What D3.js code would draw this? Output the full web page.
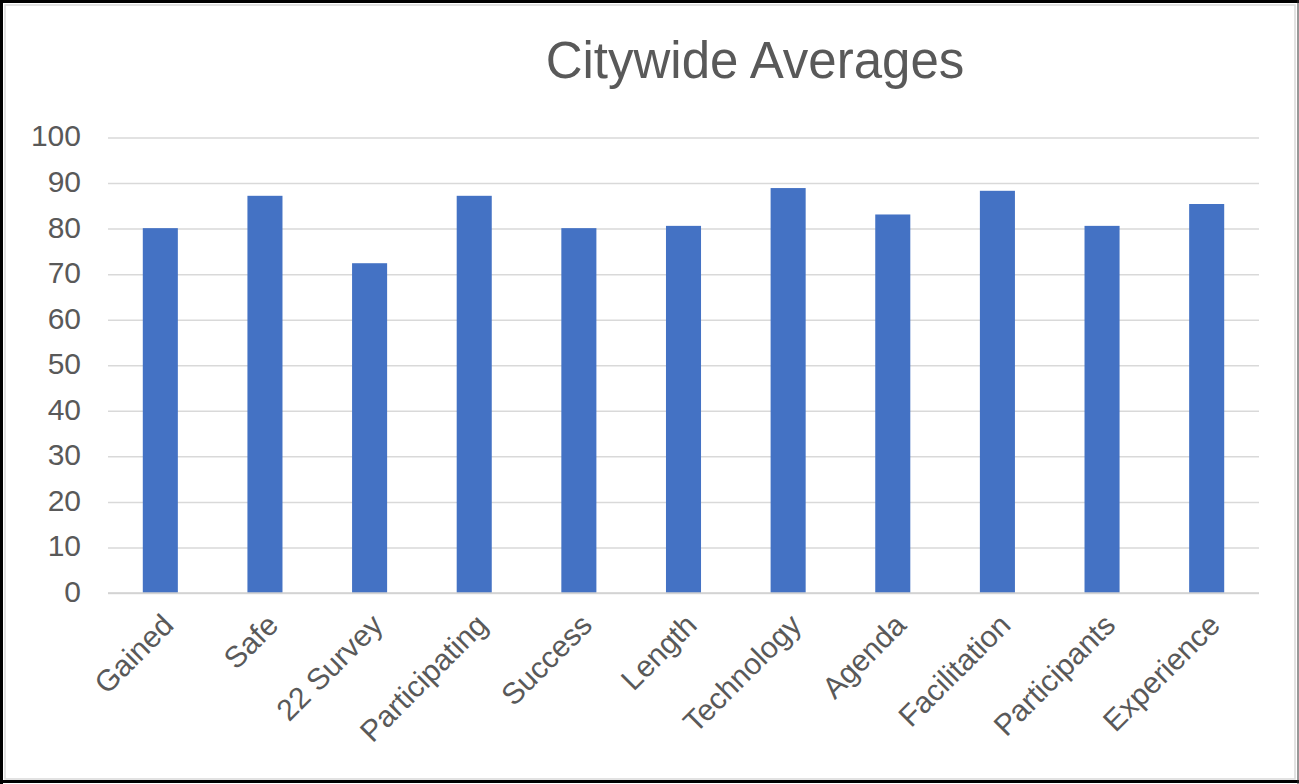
<!DOCTYPE html>
<html>
<head>
<meta charset="utf-8">
<script src="https://cdn.jsdelivr.net/npm/d3@7"></script>
<style>
  html, body { margin: 0; padding: 0; background: #fff; }
  svg { display: block; }
  text { font-family: "Liberation Sans", Arial, Helvetica, sans-serif; fill: #595959; }
</style>
</head>
<body>
<svg id="chart" width="1299" height="784"></svg>
<script>
// Survey categories and their citywide average scores
const categories = ["Gained", "Safe", "22 Survey", "Participating", "Success", "Length",
                    "Technology", "Agenda", "Facilitation", "Participants", "Experience"];
const averages = [80.1, 87.2, 72.4, 87.2, 80.1, 80.6, 88.9, 83.1, 88.3, 80.6, 85.4];
const yTicks = [0, 10, 20, 30, 40, 50, 60, 70, 80, 90, 100];
const chartTitle = "Citywide Averages";

const W = 1299, H = 784;
const plot = { left: 108, right: 1259, top: 137.5, bottom: 593 };

const svg = d3.select("#chart");

// outer frame
svg.append("rect").attr("x", 0).attr("y", 0).attr("width", W).attr("height", H).attr("fill", "#fff");
svg.append("rect").attr("x", 5).attr("y", 5).attr("width", W - 9).attr("height", H - 10)
  .attr("fill", "none").attr("stroke", "#d9d9d9").attr("stroke-width", 1.5);
svg.append("path").attr("d", `M1.5,${H} L1.5,1.5 L${W},1.5`).attr("fill", "none")
  .attr("stroke", "#000").attr("stroke-width", 3);
svg.append("line").attr("x1", 0).attr("x2", W).attr("y1", H - 2.5).attr("y2", H - 2.5)
  .attr("stroke", "#000").attr("stroke-width", 3);
svg.append("line").attr("x1", W - 1).attr("x2", W - 1).attr("y1", 0).attr("y2", H)
  .attr("stroke", "#333").attr("stroke-width", 1);

// scales
const x = d3.scaleBand().domain(categories).range([plot.left, plot.right]).padding(0);
const y = d3.scaleLinear().domain([0, 100]).range([plot.bottom, plot.top]);
const barW = x.bandwidth() * 0.335;

// title
svg.append("text")
  .attr("x", 755).attr("y", 78)
  .attr("text-anchor", "middle")
  .style("font-size", "51px")
  .text(chartTitle);

// horizontal gridlines + y labels via axis
const yAxis = d3.axisLeft(y).tickValues(yTicks).tickSize(-(plot.right - plot.left)).tickPadding(27);
const gy = svg.append("g").attr("transform", `translate(${plot.left},0)`).call(yAxis);
gy.select(".domain").remove();
gy.selectAll(".tick line").attr("stroke", "#d9d9d9").attr("stroke-width", 1.5);
gy.selectAll(".tick text")
  .attr("fill", "#595959")
  .attr("dy", "0.28em")
  .style("font-size", "30px")
  .style("font-family", "'Liberation Sans', Arial, Helvetica, sans-serif");

// bars
svg.append("g").selectAll("rect")
  .data(categories.map((c, i) => ({ c, v: averages[i] })))
  .join("rect")
  .attr("x", d => x(d.c) + (x.bandwidth() - barW) / 2)
  .attr("width", barW)
  .attr("y", d => y(d.v))
  .attr("height", d => y(0) - y(d.v))
  .attr("fill", "#4472C4");

// baseline
svg.append("line")
  .attr("x1", plot.left).attr("x2", plot.right)
  .attr("y1", y(0)).attr("y2", y(0))
  .attr("stroke", "#d0d0d0").attr("stroke-width", 1.5);

// rotated category labels
svg.append("g").selectAll("text")
  .data(categories)
  .join("text")
  .attr("text-anchor", "end")
  .attr("transform", d => `translate(${x(d) + x.bandwidth() / 2 + 15},627) rotate(-45)`)
  .style("font-size", "30px")
  .text(d => d);
</script>
</body>
</html>
